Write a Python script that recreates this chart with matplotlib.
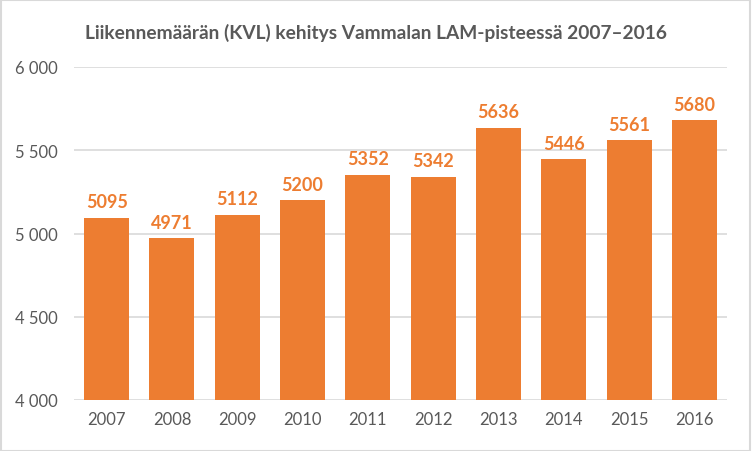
import matplotlib
matplotlib.use('Agg')
import matplotlib.pyplot as plt
from matplotlib.ticker import FuncFormatter
from matplotlib.patches import Rectangle

years = ['2007', '2008', '2009', '2010', '2011', '2012', '2013', '2014', '2015', '2016']
kvl = [5095, 4971, 5112, 5200, 5352, 5342, 5636, 5446, 5561, 5680]

orange = '#ED7D31'
grey = '#595959'

plt.rcParams['font.family'] = ['Lato', 'DejaVu Sans']

fig = plt.figure(figsize=(7.52, 4.52), dpi=100)
ax = fig.add_axes([74 / 752, 1 - 401 / 452, (727 - 74) / 752, (401 - 68) / 452])

x = range(len(years))
ax.bar(x, kvl, width=0.69, color=orange, zorder=2)
for i, v in zip(x, kvl):
    ax.text(i, v + 45, str(v), ha='center', va='bottom', color=orange,
            fontsize=13, fontweight='bold')

ax.set_ylim(4000, 6000)
ax.set_xlim(-0.5, len(years) - 0.5)
ax.set_yticks([4000, 4500, 5000, 5500, 6000])
ax.yaxis.set_major_formatter(FuncFormatter(lambda v, p: '{:,.0f}'.format(v).replace(',', ' ')))
ax.set_xticks(list(x))
ax.set_xticklabels(years)
ax.grid(axis='y', color='#d9d9d9', linewidth=1.2, zorder=0)
for s in ax.spines.values():
    s.set_visible(False)
ax.tick_params(length=0, colors=grey, labelsize=12)
ax.tick_params(axis='y', pad=12)
ax.tick_params(axis='x', pad=8)

fig.text(0.5, 1 - 33 / 452, 'Liikennemäärän (KVL) kehitys Vammalan LAM-pisteessä 2007–2016',
         ha='center', va='center', fontsize=13.8, fontweight='bold', color=grey)

fig.patches.append(Rectangle((0.001, 0.001), 0.997, 0.997, transform=fig.transFigure,
                             fill=False, edgecolor='#d9d9d9', linewidth=1.5))

fig.savefig('out.png', dpi=100)
